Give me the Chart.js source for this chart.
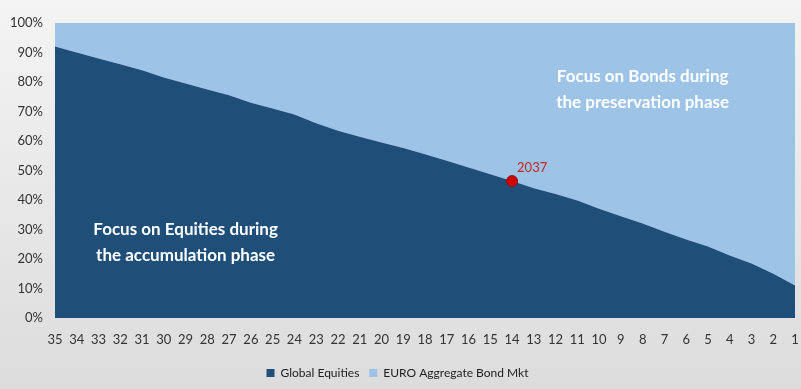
<!DOCTYPE html>
<html>
<head>
<meta charset="utf-8">
<script src="https://cdn.jsdelivr.net/npm/chart.js@4.4.1/dist/chart.umd.min.js"></script>
<style>
  html, body { margin: 0; padding: 0; background: #e8e8e8; }
  #wrap { width: 801px; height: 389px; position: relative; }
</style>
</head>
<body>
<div id="wrap"><canvas id="c" width="801" height="389"></canvas></div>
<script>
// ---- data ----
const yearsToRetirement = ['35','34','33','32','31','30','29','28','27','26','25','24','23','22','21','20','19','18','17','16','15','14','13','12','11','10','9','8','7','6','5','4','3','2','1'];
const globalEquities = [92, 90, 88, 86, 84, 81.5, 79.5, 77.5, 75.5, 73, 71, 69, 66, 63.5, 61.4, 59.5, 57.6, 55.5, 53.3, 51, 48.7, 46.4, 44, 42, 39.8, 37, 34.5, 32, 29.2, 26.6, 24.2, 21.2, 18.5, 15, 11];
const euroAggBond = [8, 10, 12, 14, 16, 18.5, 20.5, 22.5, 24.5, 27, 29, 31, 34, 36.5, 38.6, 40.5, 42.4, 44.5, 46.7, 49, 51.3, 53.6, 56, 58, 60.2, 63, 65.5, 68, 70.8, 73.4, 75.8, 78.8, 81.5, 85, 89];
const markerYear = '14';
const markerLabel = '2037';
const yTicks = [0, 10, 20, 30, 40, 50, 60, 70, 80, 90, 100];
const notes = [
  { lines: ['Focus on Bonds during', 'the preservation phase'], cat: '8', y: 82 },
  { lines: ['Focus on Equities during', 'the accumulation phase'], cat: '29', y: 30 }
];

const DARK = '#1F4E79';
const LIGHT = '#9DC3E6';
const FONT = 'Lato, "Open Sans", sans-serif';

const markerData = yearsToRetirement.map((c, i) => c === markerYear ? globalEquities[i] : null);

const bgPlugin = {
  id: 'bg',
  beforeDraw(chart) {
    const ctx = chart.ctx;
    const g = ctx.createLinearGradient(0, 0, 0, chart.height);
    g.addColorStop(0, '#f4f4f4');
    g.addColorStop(1, '#dcdcdc');
    ctx.save();
    ctx.fillStyle = g;
    ctx.fillRect(0, 0, chart.width, chart.height);
    ctx.restore();
  }
};

const notesPlugin = {
  id: 'notes',
  afterDatasetsDraw(chart) {
    const ctx = chart.ctx;
    const xs = chart.scales.x, ys = chart.scales.y;
    ctx.save();
    ctx.fillStyle = '#ffffff';
    ctx.font = 'bold 17px ' + FONT;
    ctx.textAlign = 'center';
    ctx.textBaseline = 'middle';
    notes.forEach(n => {
      const x = xs.getPixelForValue(yearsToRetirement.indexOf(n.cat));
      const y = ys.getPixelForValue(n.y);
      n.lines.forEach((t, k) => ctx.fillText(t, x, y + k * 26));
    });
    const meta = chart.getDatasetMeta(2);
    const idx = yearsToRetirement.indexOf(markerYear);
    const pt = meta.data[idx];
    if (pt) {
      ctx.fillStyle = '#C0262C';
      ctx.font = '13px ' + FONT;
      ctx.textAlign = 'left';
      ctx.fillText(markerLabel, pt.x + 5, pt.y - 13);
    }
    ctx.restore();
  }
};

new Chart(document.getElementById('c'), {
  type: 'line',
  data: {
    labels: yearsToRetirement,
    datasets: [
      {
        label: 'Global Equities',
        data: globalEquities,
        backgroundColor: DARK,
        borderColor: DARK,
        borderWidth: 0,
        pointRadius: 0,
        fill: 'origin',
        stack: 'alloc',
        order: 2
      },
      {
        label: 'EURO Aggregate Bond Mkt',
        data: euroAggBond,
        backgroundColor: LIGHT,
        borderColor: LIGHT,
        borderWidth: 0,
        pointRadius: 0,
        fill: '-1',
        stack: 'alloc',
        order: 3
      },
      {
        label: 'marker',
        data: markerData,
        showLine: false,
        pointRadius: 5.5,
        pointBackgroundColor: '#D00000',
        pointBorderColor: '#8a1010',
        pointBorderWidth: 1,
        fill: false,
        stack: 'marker',
        order: 0
      }
    ]
  },
  options: {
    responsive: false,
    animation: false,
    events: [],
    layout: { autoPadding: false, padding: { top: 23, right: 6, left: 0, bottom: 0 } },
    plugins: {
      legend: {
        position: 'bottom',
        labels: {
          filter: item => item.text !== 'marker',
          boxWidth: 8,
          boxHeight: 8,
          padding: 10,
          color: '#222',
          font: { family: FONT, size: 12 }
        }
      },
      tooltip: { enabled: false },
      title: { display: false }
    },
    scales: {
      x: {
        offset: false,
        grid: { display: false, drawTicks: false },
        border: { display: false },
        ticks: {
          color: '#333',
          font: { family: FONT, size: 13 },
          padding: 14,
          autoSkip: false,
          maxRotation: 0
        },
        afterFit(s) { s.height = 39; s.paddingLeft = 0; s.paddingRight = 0; }
      },
      y: {
        stacked: true,
        min: 0,
        max: 100,
        grid: { display: false, drawTicks: false },
        border: { display: false },
        afterBuildTicks(s) { s.ticks = yTicks.map(v => ({ value: v })); },
        ticks: {
          color: '#333',
          font: { family: FONT, size: 13 },
          padding: 12,
          callback: v => v + '%'
        },
        afterFit(s) { s.width = 55; }
      }
    }
  },
  plugins: [bgPlugin, notesPlugin]
});
</script>
</body>
</html>
